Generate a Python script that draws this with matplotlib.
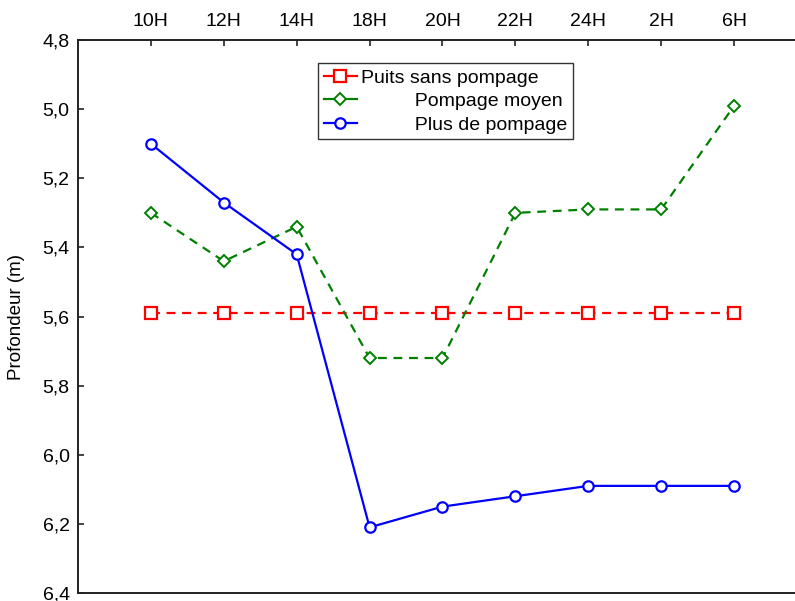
import matplotlib

matplotlib.use("Agg")
import matplotlib.pyplot as plt
from matplotlib.ticker import FuncFormatter

plt.rcParams["font.family"] = ["Liberation Sans", "DejaVu Sans"]

# hours of measurement, in order along the x axis
hours = ["10H", "12H", "14H", "18H", "20H", "22H", "24H", "2H", "6H"]

# depth (m)
puits_sans = [5.59, 5.59, 5.59, 5.59, 5.59, 5.59, 5.59, 5.59, 5.59]
pompage_moyen = [5.30, 5.44, 5.34, 5.72, 5.72, 5.30, 5.29, 5.29, 4.99]
plus_pompage = [5.10, 5.27, 5.42, 6.21, 6.15, 6.12, 6.09, 6.09, 6.09]

labels = ["Puits sans pompage", "          Pompage moyen", "          Plus de pompage"]
yticks = [4.8, 5.0, 5.2, 5.4, 5.6, 5.8, 6.0, 6.2, 6.4]

fig = plt.figure(figsize=(7.95, 6.01), dpi=100)
ax = fig.add_axes([0.0981, 0.0133, 0.917, 0.920])

x = list(range(1, len(hours) + 1))
ax.plot(x, puits_sans, color="#FF0000", lw=1.6, ls=(0, (4, 3)), marker="s", ms=8,
        mfc="white", mec="#FF0000", mew=1.6, label=labels[0])
ax.plot(x, pompage_moyen, color="#008000", lw=1.6, ls=(0, (4, 3)), marker="D", ms=6.5,
        mfc="white", mec="#008000", mew=1.4, label=labels[1])
ax.plot(x, plus_pompage, color="#0000FF", lw=1.6, ls="-", marker="o", ms=7.5,
        mfc="white", mec="#0000FF", mew=1.6, label=labels[2])

ax.set_xlim(0, 10)
ax.set_ylim(6.4, 4.8)
ax.set_xticks(x)
ax.set_xticklabels(hours)
ax.set_yticks(yticks)
ax.yaxis.set_major_formatter(FuncFormatter(lambda v, p: f"{v:.1f}".replace(".", ",")))
ax.xaxis.tick_top()
ax.tick_params(axis="both", direction="in", length=4, width=1.2, labelsize=14, colors="#222222")
ax.tick_params(axis="x", pad=7, labelcolor="black")
ax.tick_params(axis="y", pad=6, labelcolor="black")
for side in ["left", "top", "bottom"]:
    ax.spines[side].set_linewidth(1.4)
    ax.spines[side].set_color("#222222")
ax.spines["right"].set_visible(False)

ax.set_ylabel("Profondeur (m)", fontsize=13.5)
ax.yaxis.set_label_coords(-0.073, 0.5)

leg = ax.legend(loc="upper left", bbox_to_anchor=(0.329, 0.958), fontsize=14, frameon=True,
                fancybox=False, edgecolor="black", handlelength=1.7, handletextpad=0.2,
                labelspacing=0.3, borderpad=0.3, borderaxespad=0)
leg.get_frame().set_linewidth(1.0)
# legend handles drawn as short solid strokes, as in the source chart
for h in leg.get_lines():
    h.set_linestyle("-")

fig.savefig("out.png", dpi=100)
